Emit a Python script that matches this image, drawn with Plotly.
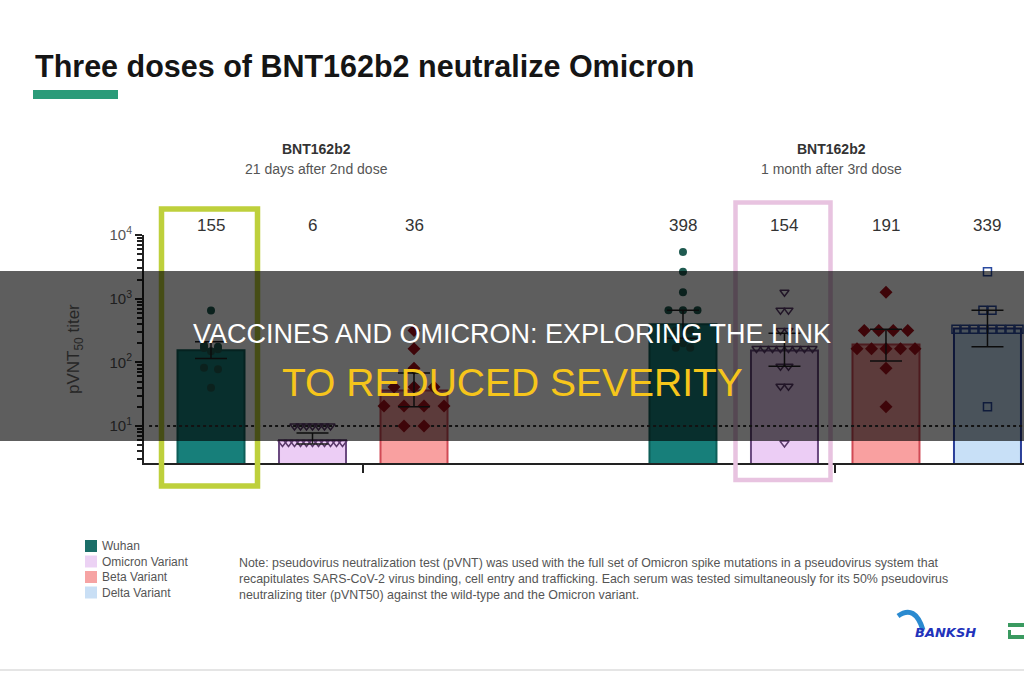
import numpy as np
import plotly.graph_objects as go

# ---------------- data ----------------
variants = ["Wuhan", "Omicron Variant", "Beta Variant", "Delta Variant"]
bar_variant = ["Wuhan", "Omicron Variant", "Beta Variant",
               "Wuhan", "Omicron Variant", "Beta Variant", "Delta Variant"]
gmt_values = [155, 6, 36, 398, 154, 191, 339]
ci_lower = [115, 5.2, 20, 240, 87, 105, 175]
ci_upper = [210, 7.8, 68, 660, 287, 330, 660]

points_wuhan_2nd = [650, 185, 175, 168, 160, 150, 82, 78, 40]
points_omicron_2nd = [10, 10, 10, 10, 10, 10, 10,
                      5.5, 5.5, 5.5, 5.5, 5.5, 5.5, 5.5, 5.5, 5.5, 5.5, 5.5]
points_beta_2nd = [316, 163, 81, 41, 41, 41, 20.6, 20.6, 20.6, 20.6, 10, 10]
points_wuhan_3rd = [5400, 2650, 1260, 660, 660, 660, 316, 316, 200, 170, 170]
points_omicron_3rd = [1260, 660, 660, 316, 316, 165, 165, 165, 165, 165, 165,
                      165, 165, 87, 87, 42, 42, 5.4]
points_beta_3rd = [1260, 316, 316, 316, 316, 163, 163, 163, 163, 163, 81, 20]
points_delta_3rd = [2650, 660, 660, 330, 330, 330, 330, 330, 330, 330, 330, 20]
bar_points = [points_wuhan_2nd, points_omicron_2nd, points_beta_2nd,
              points_wuhan_3rd, points_omicron_3rd, points_beta_3rd, points_delta_3rd]

group_titles = ["BNT162b2", "BNT162b2"]
group_subtitles = ["21 days after 2nd dose", "1 month after 3rd dose"]
y_tick_vals = [10, 100, 1000, 10000]
y_tick_text = ["10<sup>1</sup>", "10<sup>2</sup>", "10<sup>3</sup>", "10<sup>4</sup>"]
note_lines = [
    "Note: pseudovirus neutralization test (pVNT) was used with the full set of Omicron spike mutations in a pseudovirus system that",
    "recapitulates SARS-CoV-2 virus binding, cell entry and trafficking. Each serum was tested simultaneously for its 50% pseudovirus",
    "neutralizing titer (pVNT50) against the wild-type and the Omicron variant.",
]

# ---------------- layout constants ----------------
W, H = 1024, 680
ML, MR, MT, MB = 144, 0, 235, 217
PW, PH = W - ML - MR, H - MT - MB
X_UNIT_PX = 101.5
X0_PX = 211
x_range = [(ML - X0_PX) / X_UNIT_PX, (W - MR - X0_PX) / X_UNIT_PX]
y_range = [0.419, 4.0]
SLOT_X = [0, 1, 2, 4.65, 5.65, 6.65, 7.65]
BAR_W = 0.66
SPREAD_PX = [14, 6, 20, 14.5, 8, 14.5, 9]

fill = {"Wuhan": "#177f7a", "Omicron Variant": "#eccdf5",
        "Beta Variant": "#f9a0a0", "Delta Variant": "#c8e0f7"}
outline = {"Wuhan": "#0e5e58", "Omicron Variant": "#6b4a80",
           "Beta Variant": "#d04a55", "Delta Variant": "#2a3f9a"}
legend_fill = {"Wuhan": "#1b6e68", "Omicron Variant": "#ecd2f4",
               "Beta Variant": "#f6a3a3", "Delta Variant": "#c9dff5"}
marker_style = {
    "Wuhan": dict(symbol="circle", size=8, color="#1f5a50", line=dict(width=0)),
    "Omicron Variant": dict(symbol="triangle-down-open", size=8, color="#5a3a6a",
                            line=dict(width=1.5, color="#5a3a6a")),
    "Beta Variant": dict(symbol="diamond", size=10, color="#a8101a", line=dict(width=0)),
    "Delta Variant": dict(symbol="square-open", size=8, color="#2a4aa0",
                          line=dict(width=1.5, color="#2a4aa0")),
}


def px(xp):
    return (xp - ML) / PW


def py(yp):
    return (H - MB - yp) / PH


def swarm(values, spacing_units):
    lv = np.log10(np.array(values, dtype=float))
    order = np.argsort(-lv)
    offs = np.zeros(len(values))
    rows, cur = [], [order[0]]
    for idx in order[1:]:
        if abs(lv[idx] - lv[cur[0]]) < 0.03:
            cur.append(idx)
        else:
            rows.append(cur)
            cur = [idx]
    rows.append(cur)
    for r in rows:
        n = len(r)
        for k, idx in enumerate(r):
            offs[idx] = (k - (n - 1) / 2) * spacing_units
    return offs


fig = go.Figure()

# dotted limit line at 10
fig.add_trace(go.Scatter(x=[x_range[0] + 0.05, x_range[1]], y=[10, 10], mode="lines",
                         line=dict(color="#333333", width=2, dash="dot"),
                         showlegend=False, hoverinfo="skip"))

# bars
for v in variants:
    idxs = [i for i, b in enumerate(bar_variant) if b == v]
    fig.add_trace(go.Bar(
        x=[SLOT_X[i] for i in idxs], y=[gmt_values[i] for i in idxs],
        width=BAR_W, marker=dict(color=fill[v], line=dict(color=outline[v], width=2)),
        name=v, showlegend=False, hoverinfo="skip"))

# individual points
for i, pts in enumerate(bar_points):
    v = bar_variant[i]
    offs = swarm(pts, SPREAD_PX[i] / X_UNIT_PX)
    fig.add_trace(go.Scatter(x=SLOT_X[i] + offs, y=pts, mode="markers",
                             marker=marker_style[v], showlegend=False, hoverinfo="skip"))

# error bars
for i in range(len(gmt_values)):
    fig.add_trace(go.Scatter(
        x=[SLOT_X[i]], y=[gmt_values[i]], mode="markers",
        marker=dict(size=1, color="rgba(0,0,0,0)"),
        error_y=dict(type="data", symmetric=False,
                     array=[ci_upper[i] - gmt_values[i]],
                     arrayminus=[gmt_values[i] - ci_lower[i]],
                     width=16, thickness=1.5, color="#222222"),
        showlegend=False, hoverinfo="skip"))

annotations = []
# title
annotations.append(dict(x=px(33), y=py(66), xref="paper", yref="paper", xanchor="left",
                        yanchor="middle", showarrow=False,
                        text="Three doses of BNT162b2 neutralize Omicron",
                        font=dict(family="Liberation Sans", size=30.5, color="#151515", weight="bold")))
# group headers
for cx, t, s in zip([316, 831], group_titles, group_subtitles):
    annotations.append(dict(x=px(cx), y=py(149), xref="paper", yref="paper", showarrow=False,
                            text=t, xanchor="center", yanchor="middle",
                            font=dict(family="Liberation Sans", size=14, color="#333333", weight="bold")))
    annotations.append(dict(x=px(cx), y=py(169), xref="paper", yref="paper", showarrow=False,
                            text=s, xanchor="center", yanchor="middle",
                            font=dict(family="Liberation Sans", size=14, color="#555555")))
# value labels
for i, g in enumerate(gmt_values):
    annotations.append(dict(x=SLOT_X[i], y=py(225), xref="x", yref="paper", showarrow=False,
                            text=str(g), xanchor="center", yanchor="middle",
                            font=dict(family="Liberation Sans", size=17, color="#333333")))
# y title (under the dark band, so pre-darkened)
annotations.append(dict(x=px(75), y=py(349), xref="paper", yref="paper", showarrow=False,
                        text="pVNT<sub>50</sub> titer", textangle=-90,
                        xanchor="center", yanchor="middle",
                        font=dict(family="Liberation Sans", size=17, color="#262626")))
# legend
for k, v in enumerate(variants):
    yc = 546 + k * 15.5
    annotations.append(dict(x=px(100), y=py(yc), xref="paper", yref="paper", showarrow=False,
                            text=v, xanchor="left", yanchor="middle",
                            font=dict(family="Liberation Sans", size=12, color="#555555")))
# note
for k, line in enumerate(note_lines):
    annotations.append(dict(x=px(237), y=py(563 + k * 15.8), xref="paper", yref="paper",
                            showarrow=False, text=line, xanchor="left", yanchor="middle",
                            font=dict(family="Liberation Sans", size=12.4, color="#555555")))
# logo approximation
annotations.append(dict(x=px(945), y=py(632), xref="paper", yref="paper", showarrow=False,
                        text="<i>BANKSH</i>", xanchor="center", yanchor="middle",
                        font=dict(family="DejaVu Sans", size=13, color="#2233bb", weight="bold")))
# overlay banner text
annotations.append(dict(x=0.5 * (px(0) + px(W)), y=py(334), xref="paper", yref="paper",
                        showarrow=False, text="VACCINES AND OMICRON: EXPLORING THE LINK",
                        xanchor="center", yanchor="middle",
                        font=dict(family="Liberation Sans", size=27, color="#ffffff")))
annotations.append(dict(x=0.5 * (px(0) + px(W)), y=py(382), xref="paper", yref="paper",
                        showarrow=False, text="TO REDUCED SEVERITY",
                        xanchor="center", yanchor="middle",
                        font=dict(family="Liberation Sans", size=39, color="#f6c51b")))

shapes = []
# title underline
shapes.append(dict(type="rect", xref="paper", yref="paper", x0=px(33), x1=px(118),
                   y0=py(99), y1=py(90), fillcolor="#2b9b79", line=dict(width=0)))
# legend swatches
for k, v in enumerate(variants):
    yc = 546 + k * 15.5
    shapes.append(dict(type="rect", xref="paper", yref="paper", x0=px(85), x1=px(97),
                       y0=py(yc + 6), y1=py(yc - 6), fillcolor=legend_fill[v], line=dict(width=0)))
# highlight boxes
shapes.append(dict(type="rect", xref="paper", yref="paper", layer="above",
                   x0=px(161.5), x1=px(257.5), y0=py(486), y1=py(209),
                   line=dict(color="#bed03c", width=5.5), fillcolor="rgba(0,0,0,0)"))
shapes.append(dict(type="rect", xref="paper", yref="paper", layer="above",
                   x0=px(735.5), x1=px(830.5), y0=py(480), y1=py(202.5),
                   line=dict(color="#e8c3e0", width=4.5), fillcolor="rgba(0,0,0,0)"))
# logo swoosh
shapes.append(dict(type="path", xref="paper", yref="paper",
                   path=f"M {px(898)} {py(616)} Q {px(915)} {py(604)} {px(923)} {py(630)}",
                   line=dict(color="#2a8ad0", width=5)))
# green logo fragment at the right edge
shapes.append(dict(type="rect", xref="paper", yref="paper", x0=px(1008), x1=px(1024),
                   y0=py(627), y1=py(623), fillcolor="#3a9a60", line=dict(width=0)))
shapes.append(dict(type="rect", xref="paper", yref="paper", x0=px(1008), x1=px(1024),
                   y0=py(639), y1=py(635), fillcolor="#3a9a60", line=dict(width=0)))
shapes.append(dict(type="rect", xref="paper", yref="paper", x0=px(1008), x1=px(1011),
                   y0=py(639), y1=py(630), fillcolor="#3a9a60", line=dict(width=0)))
# bottom rule
shapes.append(dict(type="line", xref="paper", yref="paper", x0=px(0), x1=px(W),
                   y0=py(670), y1=py(670), line=dict(color="#dddddd", width=1.5)))
# dark banner
shapes.append(dict(type="rect", xref="paper", yref="paper", layer="above",
                   x0=px(0), x1=px(W), y0=py(441), y1=py(271),
                   fillcolor="rgba(0,0,0,0.63)", line=dict(width=0)))

minor_vals = [k * 10 ** d for d in range(0, 4) for k in range(2, 10)
              if np.log10(k * 10 ** d) > y_range[0]]

fig.update_layout(
    width=W, height=H, margin=dict(l=ML, r=MR, t=MT, b=MB),
    paper_bgcolor="white", plot_bgcolor="white", barmode="overlay",
    showlegend=False, annotations=annotations, shapes=shapes,
    xaxis=dict(range=x_range, showgrid=False, zeroline=False, showline=True,
               linecolor="#222222", linewidth=2, tickvals=[1.5, 6.15],
               showticklabels=False,
               ticks="outside", ticklen=8, tickwidth=2, tickcolor="#222222"),
    yaxis=dict(type="log", range=y_range, showgrid=False, zeroline=False, showline=True,
               linecolor="#222222", linewidth=2, tickmode="array", tickvals=y_tick_vals,
               ticktext=y_tick_text, ticks="outside", ticklen=7, tickwidth=2,
               tickcolor="#222222",
               tickfont=dict(family="Liberation Sans", size=15, color="#555555"),
               minor=dict(tickmode="array", tickvals=minor_vals, ticks="outside",
                          ticklen=5, tickwidth=1.5, tickcolor="#222222")),
)

fig.write_html("out.html", config={"displayModeBar": False})
